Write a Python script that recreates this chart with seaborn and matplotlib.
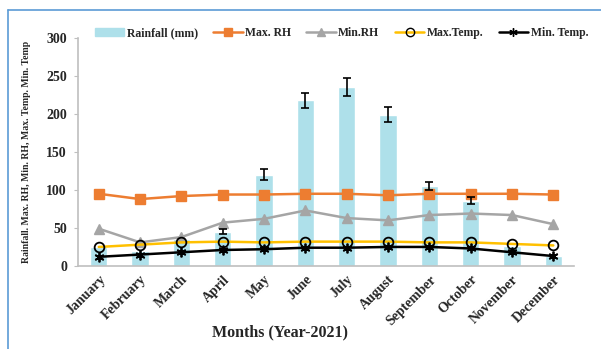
import matplotlib
matplotlib.use('Agg')
import matplotlib.pyplot as plt
import matplotlib.lines as mlines
import seaborn as sns
import numpy as np
import pandas as pd

months = ['January', 'February', 'March', 'April', 'May', 'June', 'July',
          'August', 'September', 'October', 'November', 'December']
rainfall = [25, 20, 35, 45, 120, 218, 236, 199, 105, 86, 26, 13]
rainfall_err = [0, 0, 0, 3, 7, 10, 12, 10, 5, 5, 0, 0]
max_rh = [95, 88, 92, 94, 94, 95, 95, 93, 95, 95, 95, 94]
min_rh = [49, 31, 38, 57, 62, 73, 63, 60, 67, 69, 67, 55]
max_temp = [25, 28, 31, 32, 31, 32, 32, 32, 31, 31, 29, 27]
min_temp = [12, 15, 18, 21, 22, 24, 24, 25, 25, 23, 18, 13]

df = pd.DataFrame({'Month': months, 'Rainfall': rainfall, 'Err': rainfall_err,
                   'MaxRH': max_rh, 'MinRH': min_rh,
                   'MaxTemp': max_temp, 'MinTemp': min_temp})

sns.set_style('white')
plt.rcParams['font.family'] = ['Liberation Serif', 'DejaVu Serif']

fig = plt.figure(figsize=(6.01, 3.49), dpi=100)
ax = fig.add_axes([0.13, 0.238, 0.825, 0.653])

bar_color = '#aee0ea'
sns.barplot(data=df, x='Month', y='Rainfall', color=bar_color, width=0.42,
            errorbar=None, ax=ax, saturation=1)
x = np.arange(len(months))
mask = df['Err'] > 0
ax.errorbar(x[mask], df['Rainfall'][mask], yerr=df['Err'][mask], fmt='none',
            ecolor='black', elinewidth=1.2, capsize=3, capthick=1.2, zorder=5)

ax.plot(x, df['MaxRH'], color='#ed7d31', lw=1.8, marker='s', ms=7, zorder=4)
ax.plot(x, df['MinRH'], color='#a5a5a5', lw=1.8, marker='^', ms=7, zorder=4)
ax.plot(x, df['MaxTemp'], color='#ffc000', lw=1.8, marker='o', ms=7,
        mfc='none', mec='black', mew=1.3, zorder=4)
ax.plot(x, df['MinTemp'], color='black', lw=1.8, marker=(6, 2, 0), ms=7,
        mec='black', mew=1.3, zorder=4)

ax.set_xlim(-0.5, 11.5)
ax.set_ylim(0, 300)
ax.set_yticks(range(0, 301, 50))
ax.set_xlabel('Months (Year-2021)', fontsize=11.5, fontweight='bold')
ax.xaxis.set_label_coords(0.407, -0.255)
ax.set_ylabel('Rainfall. Max. RH, Min. RH, Max. Temp. Min. Temp', fontsize=7,
              fontweight='bold', labelpad=11)
for lab in ax.get_xticklabels():
    lab.set_rotation(45)
    lab.set_ha('right')
    lab.set_rotation_mode('anchor')
    lab.set_fontweight('bold')
    lab.set_fontsize(10)
for lab in ax.get_yticklabels():
    lab.set_fontweight('bold')
    lab.set_fontsize(10)
ax.tick_params(axis='x', length=0, pad=5)
ax.tick_params(axis='y', length=3, color='#bfbfbf', left=True, pad=5)
for s in ['top', 'right']:
    ax.spines[s].set_visible(False)
for s in ['left', 'bottom']:
    ax.spines[s].set_color('#bfbfbf')
    ax.spines[s].set_linewidth(1.2)

handles = [
    plt.Rectangle((0, 0), 1, 1, color=bar_color),
    mlines.Line2D([], [], color='#ed7d31', lw=1.8, marker='s', ms=6),
    mlines.Line2D([], [], color='#a5a5a5', lw=1.8, marker='^', ms=6),
    mlines.Line2D([], [], color='#ffc000', lw=1.8, marker='o', ms=6,
                  mfc='none', mec='black'),
    mlines.Line2D([], [], color='black', lw=1.8, marker=(6, 2, 0), ms=6),
]
labels = ['Rainfall (mm)', 'Max. RH', 'Min.RH', 'Max.Temp.', 'Min. Temp.']
fig.legend(handles, labels, loc='center', bbox_to_anchor=(0.568, 0.905),
           ncol=5, frameon=False, prop={'weight': 'bold', 'size': 8.5},
           handlelength=2.5, handletextpad=0.2, columnspacing=1.3)

border = '#5b9bd5'
fig.add_artist(mlines.Line2D([8 / 601, 1], [1 - 10 / 349, 1 - 10 / 349],
                             color=border, lw=1.2, transform=fig.transFigure))
fig.add_artist(mlines.Line2D([8 / 601, 8 / 601], [0, 1 - 10 / 349],
                             color=border, lw=1.2, transform=fig.transFigure))

fig.savefig('out.png', dpi=100)
